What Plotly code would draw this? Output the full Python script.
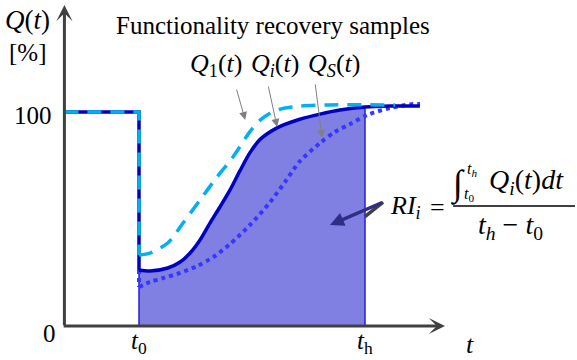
import plotly.graph_objects as go

# ---- data (t in arbitrary time units, Q in %) ----
t0 = 3.3
th = 13.3
q_pre = 100.0

# Q_i(t) : solid, recovery curve from t0
qi_t = [3.3, 3.79, 4.57, 5.12, 5.56, 6.00, 6.44, 6.88, 7.33, 7.77, 8.21, 8.66, 9.41, 10.42, 11.31, 12.19, 13.3, 14.41, 15.73]
qi_v = [26.2, 25.7, 27.1, 29.9, 34.1, 40.2, 48.1, 55.6, 63.6, 72.6, 81.0, 87.2, 92.6, 96.6, 99.0, 100.9, 102.3, 102.8, 102.8]

# Q_1(t) : dashed
q1_t = [3.3, 3.79, 4.57, 5.25, 6.00, 6.75, 7.46, 8.21, 8.66, 9.10, 9.54, 10.42, 11.75, 14.63]
q1_v = [33.2, 34.1, 38.8, 48.1, 58.9, 69.6, 79.0, 90.8, 96.2, 99.4, 101.3, 102.7, 103.3, 103.3]

# Q_S(t) : dotted
qs_t = [3.3, 3.79, 4.36, 5.12, 5.87, 6.58, 7.33, 8.21, 9.10, 9.76, 10.42, 11.31, 11.97, 12.64, 13.39, 14.41, 15.43, 15.73]
qs_v = [18.2, 20.6, 22.4, 24.8, 28.0, 32.2, 38.3, 47.2, 57.9, 67.3, 77.0, 85.5, 90.7, 94.4, 98.6, 101.9, 103.7, 103.7]

C_I = "#0000C0"
C_1 = "#00B0F0"
C_S = "#3636FF"
C_FILL = "#8080E2"
C_AX = "#404040"
FONT = "Liberation Serif, 'DejaVu Serif', serif"

fig = go.Figure()

# area under Q_i between t0 and th
k = qi_t.index(th) + 1
fig.add_trace(go.Scatter(x=qi_t[:k], y=qi_v[:k], mode="lines", line=dict(width=0, shape="spline", smoothing=0.8),
                         fill="tozeroy", fillcolor=C_FILL, hoverinfo="skip"))
# edges of the area
fig.add_trace(go.Scatter(x=[t0, t0], y=[0, qi_v[0]], mode="lines", line=dict(color="#2020D0", width=1.5)))
fig.add_trace(go.Scatter(x=[th, th], y=[0, qi_v[k - 1]], mode="lines", line=dict(color="#2020D0", width=1.5)))

# Q_S
fig.add_trace(go.Scatter(x=[t0, t0], y=[qi_v[0], qs_v[0]], mode="lines", line=dict(color=C_S, width=4, dash="dot")))
fig.add_trace(go.Scatter(x=qs_t, y=qs_v, mode="lines", line=dict(color=C_S, width=4, dash="dot", shape="spline", smoothing=0.8)))
# Q_i
fig.add_trace(go.Scatter(x=[0, t0, t0], y=[q_pre, q_pre, qi_v[0]], mode="lines", line=dict(color=C_I, width=3.5)))
fig.add_trace(go.Scatter(x=qi_t, y=qi_v, mode="lines", line=dict(color=C_I, width=3.5, shape="spline", smoothing=0.8)))
# Q_1
fig.add_trace(go.Scatter(x=[0, t0, t0], y=[q_pre, q_pre, q1_v[0]], mode="lines", line=dict(color=C_1, width=3.5, dash="14px,9px")))
fig.add_trace(go.Scatter(x=q1_t, y=q1_v, mode="lines", line=dict(color=C_1, width=3.5, dash="14px,9px", shape="spline", smoothing=0.8)))

ann = []
def arrow(x, y, ax, ay, color, width, head, size):
    ann.append(dict(x=x, y=y, ax=ax, ay=ay, xref="x", yref="y", axref="x", ayref="y", text="",
                    showarrow=True, arrowcolor=color, arrowwidth=width, arrowhead=head, arrowsize=size, standoff=0))

def label(x, y, text, size=22, xanchor="center"):
    ann.append(dict(x=x, y=y, xref="x", yref="y", text=text, showarrow=False, xanchor=xanchor, yanchor="middle",
                    font=dict(family=FONT, size=size, color="black")))

# axes
arrow(0, 150, 0, -0.3, C_AX, 3, 3, 0.9)
arrow(16.84, 0, -0.1, 0, C_AX, 3, 3, 0.9)

# pointer arrows
arrow(8.0, 96.3, 7.60, 111.2, "#808080", 1, 2, 1.6)
arrow(9.41, 93.0, 9.01, 112.6, "#808080", 1, 2, 1.6)
arrow(11.40, 87.9, 11.09, 113.6, "#808080", 1, 2, 1.6)
arrow(11.75, 47.2, 14.1, 57.9, "#2E2E85", 3.5, 2, 0.8)

# texts
label(9.25, 140.2, "Functionality recovery samples", 25)
label(-1.65, 143.0, "<i>Q</i>(<i>t</i>)", 27)
label(-1.65, 128.0, "[%]", 25)
label(-0.45, 98.6, "100", 25, "right")
label(-0.68, -3.3, "0", 25)
label(3.3, -7.9, "<i>t</i><sub>0</sub>", 25)
label(13.3, -7.9, "<i>t</i><sub>h</sub>", 25)
label(17.95, -8.6, "<i>t</i>", 26)
label(6.71, 122.0, "<i>Q</i><sub>1</sub>(<i>t</i>)", 26)
label(9.32, 122.0, "<i>Q<sub>i</sub></i>(<i>t</i>)", 26)
label(11.93, 122.0, "<i>Q<sub>S</sub></i>(<i>t</i>)", 26)
label(15.07, 55.6, "<i>RI<sub>i</sub></i>", 26)
label(16.49, 55.6, "=", 26)
label(17.42, 66.5, "∫", 36)
label(18.02, 73.0, "<i>t<sub>h</sub></i>", 16)
label(17.92, 61.3, "<i>t</i><sub>0</sub>", 16)
label(20.45, 67.3, "<i>Q<sub>i</sub></i>(<i>t</i>)<i>dt</i>", 28)
label(19.75, 46.5, "<i>t<sub>h</sub></i> − <i>t</i><sub>0</sub>", 28)

fig.update_layout(
    width=577, height=360, margin=dict(l=0, r=0, t=0, b=0),
    paper_bgcolor="white", plot_bgcolor="white", showlegend=False,
    xaxis=dict(range=[-2.85, 22.68], visible=False, fixedrange=True),
    yaxis=dict(range=[-15.89, 152.34], visible=False, fixedrange=True),
    annotations=ann,
    shapes=[
        dict(type="line", xref="x", yref="y", x0=17.2, x1=22.59, y0=56.1, y1=56.1, line=dict(color="black", width=1.5)),
        dict(type="line", xref="x", yref="y", x0=13.3, x1=14.1, y0=51.1, y1=57.9, line=dict(color="#404040", width=3.5)),
    ],
)

fig.write_html("out.html")
